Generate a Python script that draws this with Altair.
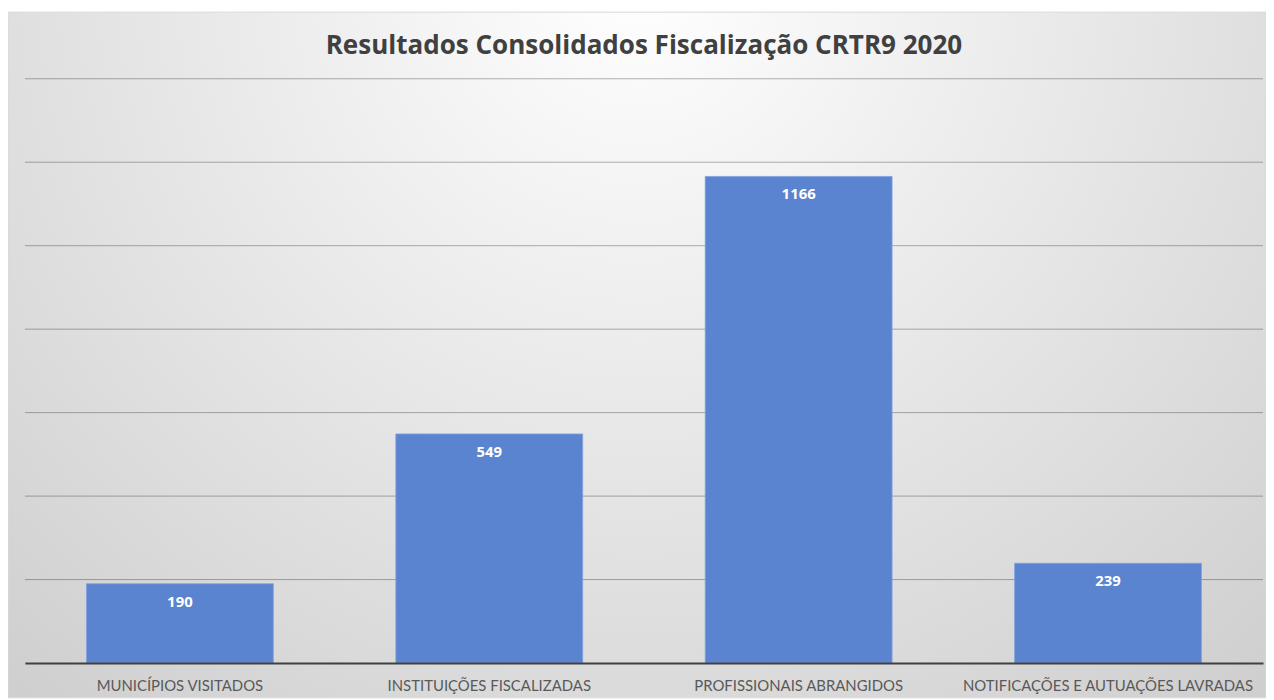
import altair as alt
import pandas as pd

categories = [
    "MUNICÍPIOS VISITADOS",
    "INSTITUIÇÕES FISCALIZADAS",
    "PROFISSIONAIS ABRANGIDOS",
    "NOTIFICAÇÕES E AUTUAÇÕES LAVRADAS",
]
values = [190, 549, 1166, 239]
grid_ticks = [200, 400, 600, 800, 1000, 1200, 1400]

df = pd.DataFrame({"categoria": categories, "valor": values})
grid_df = pd.DataFrame({"g": grid_ticks})

W, H = 1246, 588
PAD_L, PAD_T, PAD_R, PAD_B = 17, 69, 3, 35

bg = alt.Chart(pd.DataFrame({"k": [0]})).mark_rect(
    fill=alt.Gradient(
        gradient="radial",
        x1=0.5, y1=0.2, x2=0.5, y2=0.2, r1=0.0, r2=0.75,
        stops=[
            alt.GradientStop(offset=0, color="#ffffff"),
            alt.GradientStop(offset=1, color="#cfcfcf"),
        ],
    ),
    stroke="#d9d9d9",
    strokeWidth=1,
    clip=False,
).encode(
    x=alt.value(-PAD_L),
    x2=alt.value(W + PAD_R),
    y=alt.value(-67),
    y2=alt.value(H + PAD_B),
)

grid = alt.Chart(grid_df).mark_rule(color="#000000", opacity=0.3, strokeWidth=1).encode(
    y=alt.Y("g:Q", scale=alt.Scale(domain=[0, 1400], nice=False), axis=None),
    x=alt.value(0),
    x2=alt.value(W),
)

base = alt.Chart(df)

bars = base.mark_bar(color="#5b84d0", stroke="#7ea1de", strokeWidth=0.8).encode(
    x=alt.X(
        "categoria:N",
        sort=categories,
        title=None,
        scale=alt.Scale(paddingInner=0.396, paddingOuter=0.199),
        axis=alt.Axis(
            labelAngle=0,
            labelFont="Lato",
            labelFontSize=15,
            labelColor="#595959",
            labelPadding=16,
            ticks=False,
            domain=True,
            domainColor="#404040",
            domainWidth=2,
            labelLimit=400,
            zindex=1,
        ),
    ),
    y=alt.Y(
        "valor:Q",
        title=None,
        scale=alt.Scale(domain=[0, 1400], nice=False),
        axis=None,
    ),
)

labels = base.mark_text(
    color="white",
    font="Open Sans",
    fontWeight="bold",
    fontSize=15,
    baseline="middle",
    dy=18,
).encode(
    x=alt.X("categoria:N", sort=categories),
    y=alt.Y("valor:Q"),
    text=alt.Text("valor:Q"),
)

chart = (
    alt.layer(bg, grid, bars, labels)
    .properties(
        width=W,
        height=H,
        title=alt.TitleParams(
            "Resultados Consolidados Fiscalização CRTR9 2020",
            font="Open Sans",
            fontSize=26.2,
            fontWeight="bold",
            color="#404040",
            offset=-48,
            anchor="middle",
            zindex=1,
        ),
        autosize=alt.AutoSizeParams(type="none"),
        padding={"left": PAD_L, "top": PAD_T, "right": PAD_R, "bottom": PAD_B},
    )
    .configure_view(stroke=None)
    .configure(background="white")
)

chart.save("out.html", embed_options={"renderer": "svg", "actions": False})
